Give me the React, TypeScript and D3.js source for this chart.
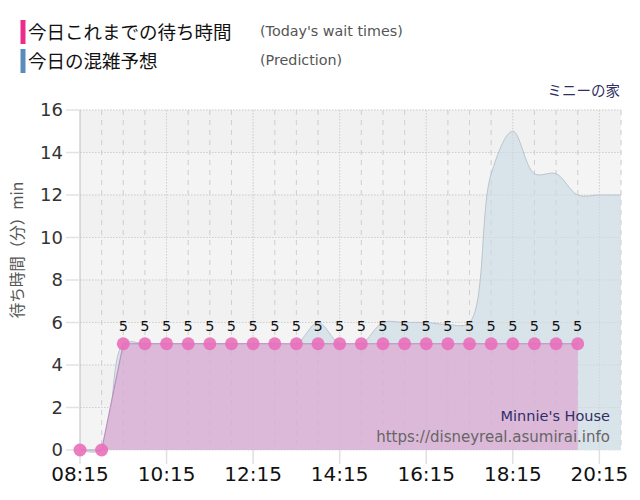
import * as d3 from "d3";

// half-hour slots from 08:15
const times = [
  "08:15", "08:45", "09:15", "09:45", "10:15", "10:45", "11:15", "11:45",
  "12:15", "12:45", "13:15", "13:45", "14:15", "14:45", "15:15", "15:45",
  "16:15", "16:45", "17:15", "17:45", "18:15", "18:45", "19:15", "19:45",
  "20:15", "20:45",
];
// today's actual waits (up to 19:45)
const actual = [0, 0, 5, 5, 5, 5, 5, 5, 5, 5, 5, 5, 5, 5, 5, 5, 5, 5, 5, 5, 5, 5, 5, 5];
// prediction
const predicted = [0, 0, 5, 5, 5, 5, 5, 5, 5, 5, 5, 6, 5, 5, 6, 6, 6, 5.9, 6, 13, 15, 13, 13, 12, 12, 12];
const xTicks = ["08:15", "10:15", "12:15", "14:15", "16:15", "18:15", "20:15"];
const yTicks = [0, 2, 4, 6, 8, 10, 12, 14, 16];

const parse = (s: string) => {
  const [h, m] = s.split(":").map(Number);
  return h * 60 + m;
};

const W = 640;
const H = 500;
const left = 80, right = 621, top = 110, bottom = 450;
const numFont = "'DejaVu Sans', Verdana, sans-serif";
const jpFont = "'Noto Sans CJK JP', sans-serif";

type P = { t: number; v: number };

export default function App() {
  const x = d3.scaleLinear().domain([parse("08:15"), parse("20:45")]).range([left, right]);
  const y = d3.scaleLinear().domain([0, 16]).range([bottom, top]);

  const predPts: P[] = predicted.map((v, i) => ({ t: parse(times[i]), v }));
  const actPts: P[] = actual.map((v, i) => ({ t: parse(times[i]), v }));

  const curve = d3.curveCatmullRom.alpha(0.5);
  const predArea = d3.area<P>().curve(curve).x(d => x(d.t)).y0(y(0)).y1(d => y(d.v));
  const predLine = d3.line<P>().curve(curve).x(d => x(d.t)).y(d => y(d.v));
  const actArea = d3.area<P>().x(d => x(d.t)).y0(y(0)).y1(d => y(d.v));
  const actLine = d3.line<P>().x(d => x(d.t)).y(d => y(d.v));

  const halfHours = d3.range(parse("08:45"), parse("20:46"), 30);
  const isMajor = (t: number) => (t - parse("08:15")) % 120 === 0;

  return (
    <div style={{ position: "fixed", left: 0, top: 0 }}>
      <svg width={W} height={H} style={{ display: "block", background: "#fff" }}>
        {/* legend */}
        <rect x={20.5} y={20} width={5} height={24} fill="#ee2a8c" />
        <text x={28} y={38.5} fontFamily={jpFont} fontSize={18.5} fill="#111">今日これまでの待ち時間</text>
        <text x={260} y={36} fontFamily={numFont} fontSize={14.3} fill="#555">(Today's wait times)</text>
        <rect x={20.5} y={49} width={5} height={24} fill="#5a8cbc" />
        <text x={28} y={67.5} fontFamily={jpFont} fontSize={18.5} fill="#111">今日の混雑予想</text>
        <text x={260} y={65} fontFamily={numFont} fontSize={14.3} fill="#555">(Prediction)</text>

        <text x={620} y={96} textAnchor="end" fontFamily={jpFont} fontSize={14.5} fill="#2f2f66">ミニーの家</text>

        {/* plot background with bands */}
        <rect x={left} y={top} width={right - left} height={bottom - top} fill="#f4f4f4" />
        {yTicks.slice(0, -1).filter((_, i) => i % 2 === 1).map(v => (
          <rect key={v} x={left} y={y(v + 2)} width={right - left} height={y(v) - y(v + 2)} fill="#f1f1f1" />
        ))}

        {/* grid */}
        {halfHours.map(t => (
          <line key={t} x1={x(t)} x2={x(t)} y1={top} y2={bottom}
            stroke="#dcdcdc" strokeDasharray={isMajor(t) ? "1.5,1.5" : "5,5"} />
        ))}
        {yTicks.map(v => (
          <line key={v} x1={left} x2={right} y1={y(v)} y2={y(v)} stroke="#d8d8d8" strokeDasharray="1.5,1.5" />
        ))}

        {/* prediction */}
        <path d={predArea(predPts) ?? ""} fill="#d9e3ea" />
        <path d={predLine(predPts) ?? ""} fill="none" stroke="#bac5cd" strokeWidth={1} />

        {/* actual */}
        <path d={actArea(actPts) ?? ""} fill="#dcb9d9" />
        <path d={actLine(actPts) ?? ""} fill="none" stroke="#b98fbf" strokeWidth={1.2} />

        {/* grid over areas (faint) */}
        {halfHours.map(t => (
          <line key={"o" + t} x1={x(t)} x2={x(t)} y1={top} y2={bottom}
            stroke="#c0aec0" strokeOpacity={0.3} strokeDasharray={isMajor(t) ? "1.5,1.5" : "5,5"} />
        ))}
        {yTicks.slice(1).map(v => (
          <line key={"o" + v} x1={left} x2={right} y1={y(v)} y2={y(v)} stroke="#c6c6c6" strokeOpacity={0.4} strokeDasharray="1.5,1.5" />
        ))}

        {/* axes */}
        <line x1={left} x2={left} y1={top} y2={bottom + 2} stroke="#bdbdbd" />
        {yTicks.map(v => (
          <g key={v}>
            <line x1={66} x2={left} y1={y(v)} y2={y(v)} stroke="#e2e2e2" strokeWidth={1.5} />
            <text x={63} y={y(v)} dy="0.36em" textAnchor="end" fontFamily={numFont} fontSize={18} fill="#333">{v}</text>
          </g>
        ))}
        {xTicks.map(s => (
          <g key={s}>
            <line x1={x(parse(s))} x2={x(parse(s))} y1={bottom} y2={bottom + 14} stroke="#e0e0e0" strokeWidth={1.5} />
            <text x={x(parse(s))} y={481} textAnchor="middle" fontFamily={numFont} fontSize={20} fill="#111">{s}</text>
          </g>
        ))}
        <text transform="translate(23,250) rotate(-90)" textAnchor="middle" fontFamily={jpFont} fontSize={15.5} fill="#555">
          待ち時間（分）min
        </text>

        {/* points + labels */}
        {actPts.map((d, i) => (
          <g key={i}>
            <circle cx={x(d.t)} cy={y(d.v)} r={6.5} fill="#e96fba" fillOpacity={0.9} />
            {d.v > 0 && (
              <text x={x(d.t)} y={y(d.v) - 13} textAnchor="middle" fontFamily={numFont} fontSize={14.5} fill="#111">{d.v}</text>
            )}
          </g>
        ))}

        {/* watermark */}
        <text x={610} y={421} textAnchor="end" fontFamily={numFont} fontSize={14.5} fill="#2f2f66">Minnie's House</text>
        <text x={610} y={442} textAnchor="end" fontFamily={numFont} fontSize={15} fill="#666">https://disneyreal.asumirai.info</text>
      </svg>
    </div>
  );
}
